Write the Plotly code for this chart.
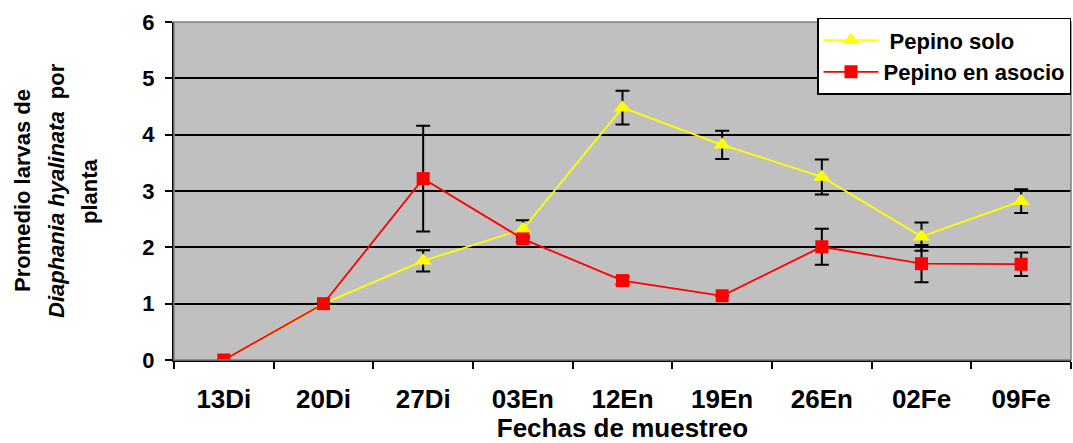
import plotly.graph_objects as go

fechas = ["13Di", "20Di", "27Di", "03En", "12En", "19En", "26En", "02Fe", "09Fe"]
solo = [0.0, 1.0, 1.76, 2.32, 4.48, 3.82, 3.25, 2.19, 2.82]
solo_err = [0.0, 0.0, 0.19, 0.16, 0.30, 0.25, 0.31, 0.25, 0.21]
asocio = [0.0, 1.0, 3.22, 2.15, 1.41, 1.14, 2.01, 1.71, 1.70]
asocio_err = [0.0, 0.0, 0.94, 0.05, 0.07, 0.0, 0.32, 0.33, 0.21]
ytitle_lines = ["Promedio larvas de", "<i>Diaphania hyalinata</i>  por", "planta"]

FONT = "Arial, Liberation Sans, sans-serif"
xs = list(range(len(fechas)))

fig = go.Figure()
fig.add_trace(go.Scatter(
    x=xs, y=solo, name=" Pepino solo", mode="lines+markers",
    line=dict(color="#FFFF00", width=1.8),
    marker=dict(symbol="triangle-up", size=15, color="#FFFF00"),
    error_y=dict(type="data", array=solo_err, color="black", thickness=2, width=7),
))
fig.add_trace(go.Scatter(
    x=xs, y=asocio, name="Pepino en asocio", mode="lines+markers",
    line=dict(color="#FF0000", width=1.8),
    marker=dict(symbol="square", size=13, color="#FF0000"),
    error_y=dict(type="data", array=asocio_err, color="black", thickness=2, width=7),
))

fig.update_layout(
    width=1073, height=443,
    margin=dict(l=174, r=2, t=22, b=83),
    paper_bgcolor="white", plot_bgcolor="#C0C0C0",
    font=dict(family=FONT, size=22, color="black", weight="bold"),
    showlegend=True,
    legend=dict(
        x=1.0, y=1.012, xanchor="right", yanchor="top",
        bgcolor="white", bordercolor="black", borderwidth=1.5,
        font=dict(family=FONT, size=22, color="black", weight="bold"),
        tracegroupgap=0, itemwidth=55,
    ),
    xaxis=dict(
        range=[-0.5, 8.5], tickvals=xs, ticktext=fechas,
        ticks="outside", ticklen=15, tickcolor="rgba(0,0,0,0)",
        showgrid=False, zeroline=False, showline=True, linecolor="black", linewidth=2,
        tickfont=dict(family=FONT, size=26, weight="bold"),
        minor=dict(tick0=-0.5, dtick=1, ticks="outside", ticklen=7, tickcolor="black", tickwidth=2, showgrid=False),
        title=dict(text="Fechas de muestreo", font=dict(family=FONT, size=26, weight="bold"), standoff=0),
    ),
    yaxis=dict(
        range=[0, 6], tickvals=[0, 1, 2, 3, 4, 5, 6], ticks="outside", ticklen=7, tickwidth=2,
        tickcolor="black", showgrid=True, gridcolor="black", gridwidth=2, zeroline=False,
        showline=True, linecolor="black", linewidth=2, ticklabelstandoff=6,
        tickfont=dict(family=FONT, size=22, weight="bold"),
    ),
)
for line_txt, xs_px in zip(ytitle_lines, [-152, -118, -85]):
    fig.add_annotation(text=line_txt, xref="paper", yref="paper", x=0, y=0.5,
                       xanchor="center", yanchor="middle", xshift=xs_px, textangle=-90,
                       showarrow=False, font=dict(family=FONT, size=22, weight="bold", color="black"))
fig.add_shape(type="rect", xref="paper", yref="paper", x0=0, x1=1, y0=0, y1=1,
              line=dict(color="#808080", width=1.5), layer="above")

fig.write_html("out.html")
